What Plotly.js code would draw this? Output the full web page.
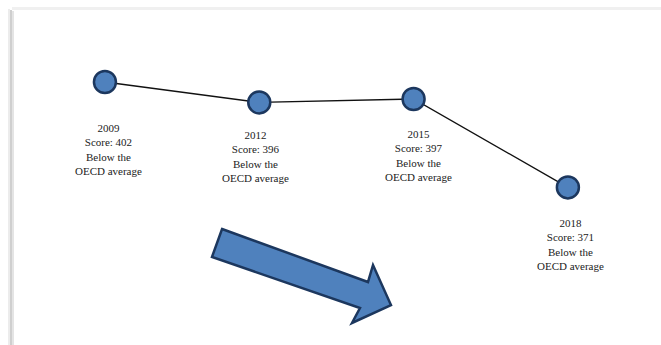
<!DOCTYPE html>
<html>
<head>
<meta charset="utf-8">
<script src="https://cdn.plot.ly/plotly-3.0.1.min.js"></script>
<style>
html,body{margin:0;padding:0;background:#fff;}
#chart{width:661px;height:345px;}
</style>
</head>
<body>
<div id="chart"></div>
<script>
// ---- data ----
const years = [2009, 2012, 2015, 2018];
const scores = [402, 396, 397, 371];
const statusLine1 = ["Below the", "Below the", "Below the", "Below the"];
const statusLine2 = ["OECD average", "OECD average", "OECD average", "OECD average"];

const W = 661, H = 345;
const px = (x) => x / W;
const py = (y) => 1 - y / H;

const fill = '#4f81bd';
const edge = '#1c375e';

// label offsets relative to each marker (pixels)
const labelShift = [
  {dx: 4, dy: -38},
  {dx: -4, dy: -25},
  {dx: 5, dy: -27},
  {dx: 3, dy: -28}
];

const trace = {
  type: 'scatter',
  mode: 'lines+markers',
  x: years,
  y: scores,
  line: {color: '#111', width: 1.3},
  marker: {size: 22, color: fill, line: {color: edge, width: 2.5}},
  hoverinfo: 'none',
  showlegend: false
};

const annotations = years.map((yr, i) => ({
  x: yr, y: scores[i], xref: 'x', yref: 'y',
  text: yr + '<br>Score: ' + scores[i] + '<br>' + statusLine1[i] + '<br>' + statusLine2[i],
  showarrow: false,
  xanchor: 'center', yanchor: 'top', align: 'center',
  xshift: labelShift[i].dx, yshift: labelShift[i].dy,
  font: {family: 'Liberation Serif, Times New Roman, serif', size: 11, color: '#222'}
}));

// decorative block arrow (pixel vertices converted to paper)
const arrowPts = [[222,229],[368,282],[373,265],[391,305],[352,323],[360,308],[212,257]];
const arrowPath = 'M ' + arrowPts.map(p => px(p[0]).toFixed(4) + ',' + py(p[1]).toFixed(4)).join(' L ') + ' Z';

const shapes = [
  // page shadow: left edge
  {type:'line', xref:'paper', yref:'paper', x0:px(9), x1:px(9), y0:py(345), y1:py(9), line:{color:'#ececec', width:2}},
  {type:'line', xref:'paper', yref:'paper', x0:px(11), x1:px(11), y0:py(345), y1:py(10), line:{color:'#cfcfcf', width:2}},
  {type:'line', xref:'paper', yref:'paper', x0:px(13), x1:px(13), y0:py(345), y1:py(11), line:{color:'#e4e4e4', width:2}},
  // page shadow: top edge
  {type:'line', xref:'paper', yref:'paper', x0:px(12), x1:px(661), y0:py(8.5), y1:py(8.5), line:{color:'#f0f0f0', width:3}},
  // arrow
  {type:'path', xref:'paper', yref:'paper', path: arrowPath, fillcolor: fill, line:{color: edge, width: 2.5}}
];

const layout = {
  width: W, height: H,
  margin: {l:0, r:0, t:0, b:0},
  paper_bgcolor: '#fff', plot_bgcolor: '#fff',
  xaxis: {range: [2006.96, 2019.81], visible: false, fixedrange: true},
  yaxis: {range: [324.65, 426.12], visible: false, fixedrange: true},
  annotations: annotations,
  shapes: shapes,
  showlegend: false
};

Plotly.newPlot('chart', [trace], layout, {displayModeBar: false, staticPlot: true});
</script>
</body>
</html>
